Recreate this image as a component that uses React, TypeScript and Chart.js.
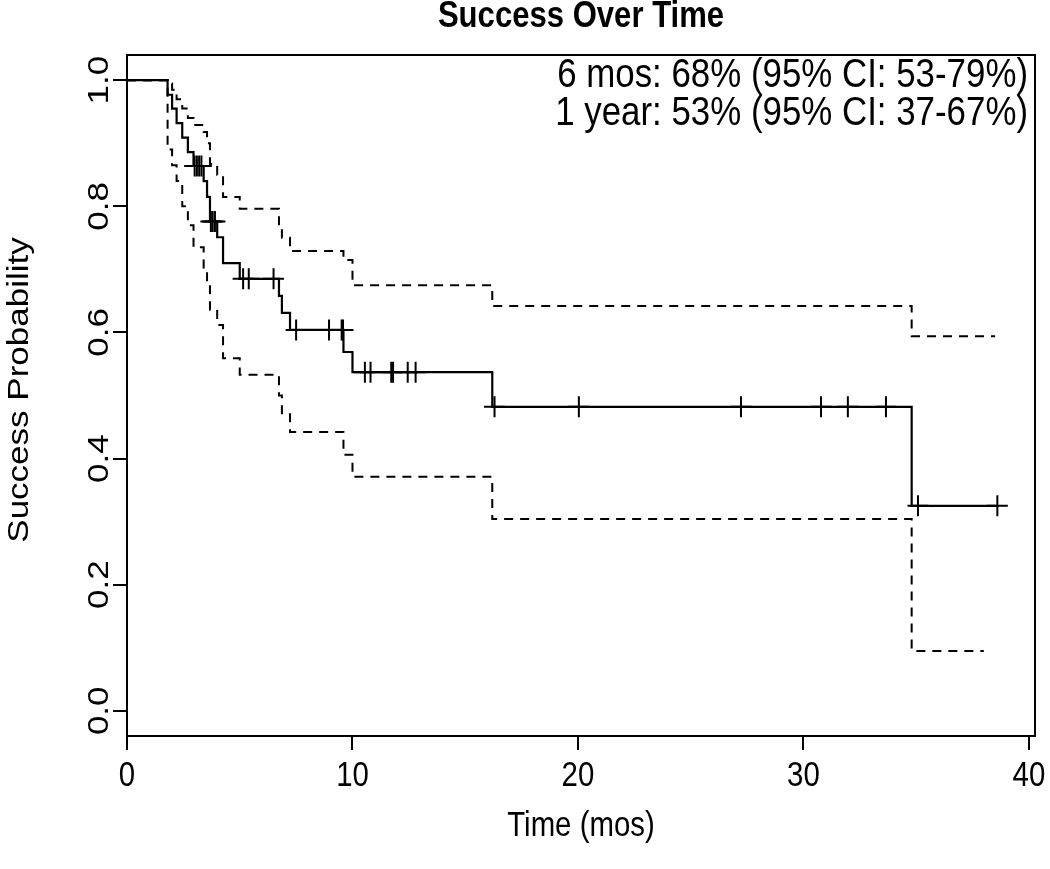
import React, { useEffect, useRef } from "react";
import { Chart, registerables } from "chart.js";

Chart.register(...registerables);

// ---- text ----
const chartTitle = "Success Over Time";
const xAxisTitle = "Time (mos)";
const yAxisTitle = "Success Probability";
const annotationLines = ["6 mos: 68% (95% CI: 53-79%)", "1 year: 53% (95% CI: 37-67%)"];

// ---- axes ----
const xTickValues = [0, 10, 20, 30, 40];
const yTickValues = [0, 0.2, 0.4, 0.6, 0.8, 1.0];
const xTickLabels = ["0", "10", "20", "30", "40"];
const yTickLabels = ["0.0", "0.2", "0.4", "0.6", "0.8", "1.0"];

// ---- Kaplan-Meier estimate (time in months, survival after the step) ----
const kmTimes = [0, 1.8, 2.0, 2.2, 2.45, 2.7, 2.95, 3.4, 3.55, 3.68, 4.0, 4.26, 5.0, 6.74, 6.87, 7.23, 9.6, 10.0, 16.2, 34.8, 38.6];
const kmSurv = [1.0, 0.977, 0.955, 0.932, 0.909, 0.886, 0.864, 0.84, 0.815, 0.776, 0.751, 0.71, 0.685, 0.658, 0.631, 0.604, 0.569, 0.537, 0.482, 0.325, 0.325];

// ---- 95% confidence band ----
const upperTimes = [0, 1.8, 2.0, 2.2, 2.45, 2.7, 2.95, 3.4, 3.55, 3.68, 4.0, 4.26, 5.0, 6.74, 6.87, 7.23, 9.6, 10.0, 16.2, 34.8, 38.5];
const upperCI = [1.0, 0.995, 0.985, 0.97, 0.955, 0.94, 0.929, 0.918, 0.9, 0.867, 0.85, 0.815, 0.796, 0.77, 0.75, 0.729, 0.715, 0.675, 0.642, 0.594, 0.594];
const lowerTimes = [0, 1.8, 2.0, 2.2, 2.45, 2.7, 2.95, 3.4, 3.55, 3.68, 4.0, 4.26, 5.0, 6.74, 6.87, 7.23, 9.6, 10.0, 16.2, 34.8, 38.0];
const lowerCI = [1.0, 0.89, 0.865, 0.84, 0.8, 0.77, 0.735, 0.7, 0.678, 0.636, 0.612, 0.559, 0.533, 0.5, 0.472, 0.442, 0.406, 0.371, 0.304, 0.095, 0.095];

// ---- censored observations ----
const censorTimes = [3.0, 3.1, 3.2, 3.3, 3.72, 3.8, 3.9, 5.15, 5.4, 6.5, 7.5, 8.96, 9.52, 9.58, 10.55, 10.8, 11.72, 11.8, 12.45, 12.8, 16.3, 20.04, 27.23, 30.78, 31.97, 33.66, 35.08, 38.6];
const censorSurv = [0.864, 0.864, 0.864, 0.864, 0.776, 0.776, 0.776, 0.685, 0.685, 0.685, 0.604, 0.604, 0.604, 0.604, 0.537, 0.537, 0.537, 0.537, 0.537, 0.537, 0.482, 0.482, 0.482, 0.482, 0.482, 0.482, 0.325, 0.325];

const FONT = '"Liberation Sans", Arial, Helvetica, sans-serif';
const SQUASH = 0.84;

function drawText(
  ctx: CanvasRenderingContext2D,
  text: string,
  x: number,
  y: number,
  font: string,
  align: CanvasTextAlign,
  vertical = false
) {
  ctx.save();
  ctx.translate(x, y);
  if (vertical) {
    ctx.rotate(-Math.PI / 2);
    ctx.scale(1, SQUASH);
  } else {
    ctx.scale(SQUASH, 1);
  }
  ctx.font = font;
  ctx.fillStyle = "#000";
  ctx.textAlign = align;
  ctx.textBaseline = "middle";
  ctx.fillText(text, 0, 0);
  ctx.restore();
}

const textPlugin = {
  id: "rStyleText",
  afterDraw(chart: any) {
    const { ctx, chartArea, scales } = chart;
    const xs = scales.x;
    const ys = scales.y;
    // frame
    ctx.save();
    ctx.strokeStyle = "#000";
    ctx.lineWidth = 2;
    ctx.strokeRect(chartArea.left, chartArea.top, chartArea.right - chartArea.left, chartArea.bottom - chartArea.top);
    ctx.restore();

    const cx = (chartArea.left + chartArea.right) / 2;
    drawText(ctx, chartTitle, cx, 17, `bold 37px ${FONT}`, "center");
    drawText(ctx, annotationLines[0], 1028, 76, `41.5px ${FONT}`, "right");
    drawText(ctx, annotationLines[1], 1028, 114, `41.5px ${FONT}`, "right");

    xTickValues.forEach((v, i) => {
      drawText(ctx, xTickLabels[i], xs.getPixelForValue(v), 776, `35px ${FONT}`, "center");
    });
    yTickValues.forEach((v, i) => {
      drawText(ctx, yTickLabels[i], 100, ys.getPixelForValue(v), `35px ${FONT}`, "center", true);
    });
    drawText(ctx, xAxisTitle, cx, 826, `35px ${FONT}`, "center");
    drawText(ctx, yAxisTitle, 20, 390, `35px ${FONT}`, "center", true);
  },
};

function pts(xs: number[], ys: number[]) {
  return xs.map((x, i) => ({ x, y: ys[i] }));
}

export default function App() {
  const ref = useRef<HTMLCanvasElement | null>(null);
  useEffect(() => {
    if (!ref.current) return;
    const chart = new Chart(ref.current, {
      type: "line",
      data: {
        datasets: [
          {
            data: pts(upperTimes, upperCI),
            borderColor: "#000",
            borderWidth: 2,
            borderDash: [9, 7],
            stepped: "before",
            pointRadius: 0,
            fill: false,
          },
          {
            data: pts(lowerTimes, lowerCI),
            borderColor: "#000",
            borderWidth: 2,
            borderDash: [9, 7],
            stepped: "before",
            pointRadius: 0,
            fill: false,
          },
          {
            data: pts(kmTimes, kmSurv),
            borderColor: "#000",
            borderWidth: 2.2,
            stepped: "before",
            pointRadius: 0,
            fill: false,
          },
          {
            data: pts(censorTimes, censorSurv),
            showLine: false,
            pointStyle: "cross",
            pointRadius: 10.5,
            pointBorderWidth: 2,
            pointBorderColor: "#000",
            pointBackgroundColor: "#000",
          },
        ],
      },
      options: {
        animation: false,
        responsive: false,
        devicePixelRatio: 1,
        events: [],
        layout: {
          autoPadding: false,
          padding: { left: 113, right: 15, top: 55, bottom: 119 },
        },
        plugins: {
          legend: { display: false },
          tooltip: { enabled: false },
          title: { display: false },
        },
        scales: {
          x: {
            type: "linear",
            min: 0,
            max: 40.27,
            ticks: { display: false, stepSize: 10, includeBounds: false },
            grid: { drawOnChartArea: false, drawTicks: true, tickLength: 14, color: "#000", lineWidth: 2 },
            border: { display: true, color: "#000", width: 2 },
          },
          y: {
            type: "linear",
            min: -0.04,
            max: 1.04,
            ticks: { display: false, stepSize: 0.2, includeBounds: false },
            grid: { drawOnChartArea: false, drawTicks: true, tickLength: 14, color: "#000", lineWidth: 2 },
            border: { display: true, color: "#000", width: 2 },
          },
        },
      },
      plugins: [textPlugin],
    });
    return () => chart.destroy();
  }, []);

  return (
    <div style={{ position: "absolute", left: 0, top: 0, width: 1050, height: 869, background: "#fff" }}>
      <canvas ref={ref} width={1050} height={869} style={{ display: "block" }} />
    </div>
  );
}
